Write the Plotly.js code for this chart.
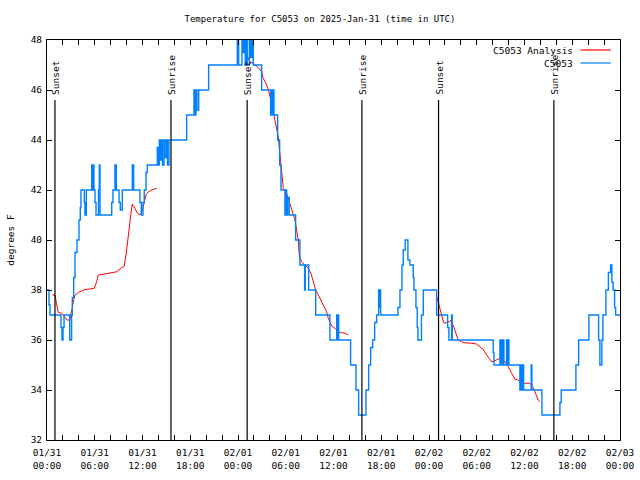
<!DOCTYPE html>
<html>
<head>
<meta charset="utf-8">
<script src="https://cdn.plot.ly/plotly-3.0.1.min.js"></script>
<style>html,body{margin:0;padding:0;background:#fff;}#chart{width:640px;height:480px;}</style>
</head>
<body>
<div id="chart"></div>
<script>
// Hours since 2025-01-31 00:00 UTC, observed temperature (deg F) for station C5053
const blueHours = [0,0.25,0.38,1.76,1.88,2.01,2.14,2.85,3.09,3.18,3.35,3.52,3.77,4.02,4.18,4.27,4.69,4.77,4.94,5.62,5.69,5.78,5.90,6.03,6.16,6.47,6.57,6.66,8.13,8.29,8.54,8.71,9.05,9.21,9.46,10.72,10.89,11.68,11.85,12.06,12.22,12.44,12.60,13.86,13.98,14.11,14.23,14.38,14.51,14.70,14.82,15.01,15.14,15.33,17.55,18.47,18.59,18.72,18.84,19.06,20.31,23.91,24.08,24.50,24.62,24.75,24.91,25.00,25.16,25.42,25.59,25.75,25.92,26.97,28.10,28.18,28.30,28.39,28.52,28.98,29.23,29.40,29.90,29.99,30.11,30.24,30.44,31.24,31.78,32.37,32.45,32.88,33.76,35.55,36.40,36.47,36.56,36.65,38.15,38.82,39.16,40.08,40.42,40.67,40.92,41.17,41.42,41.67,41.75,41.83,41.92,44.10,44.35,44.60,44.76,45.01,45.35,45.60,46.02,46.11,46.36,46.52,46.61,47.05,47.28,48.96,50.34,50.50,50.84,50.92,56.07,56.16,56.91,57.00,57.12,57.20,57.33,57.41,57.75,57.83,57.95,58.04,59.42,59.55,59.64,59.80,59.89,60.84,60.93,62.19,64.45,64.61,66.46,66.80,68.09,69.31,69.47,69.72,69.85,70.23,70.54,70.82,70.98,71.14,71.32,71.45,72.0];
const blueTemps = [38,37.4,37,36.5,36,36.5,37,36,37,37.7,38.5,39.5,40,40.8,41.3,42,41.5,41,42,43,42,43,42,41.5,41,42,43,41,41.5,42,43,42,41.5,41.2,42,43,42,41.5,41,41.5,42,42.7,43,43.7,43,44,43.2,44,43,44,43.3,44,43,44,45,46,45,46,45.2,46,47,48.3,47,48.3,47.5,48.3,47,48.3,47,48.3,47.3,48.3,47,46,45,46,45,46,45,44,43,42,41,42,41,41.7,41,40,39,38,39,38,37,36,37,36,37,36,35,34,33,34,35,35.7,36,36.7,37,38,37.3,38,37,37.3,38,39,39.6,40,39.2,39,38.5,38,37.3,36.5,36,37,38,37,36.5,36,37,36,35.5,35,36,35,36,35,36,35,36,35,36,35,34,35,34,35,34,35,34,33,33.5,34,35,36,37,36,35,36,37,38,38.7,39,38.3,38,37.3,37,37];

// Analysis series (null = gap between analysis periods)
const redHours = [0.67,1.01,1.17,1.42,1.85,2.26,2.51,2.85,3.02,3.18,3.35,3.52,3.93,4.56,5.19,5.94,6.24,6.44,7.07,7.91,8.76,9.30,9.71,10.01,10.30,10.55,10.72,11.06,11.39,11.68,11.90,12.10,12.19,12.44,12.73,13.15,13.78,
  null,
  25.16,25.50,25.92,26.55,26.97,27.17,27.51,27.80,28.02,28.23,28.43,28.64,28.86,29.06,29.18,29.36,29.49,29.69,30.11,30.53,30.87,31.16,31.37,31.57,31.70,32.00,32.41,32.83,33.17,33.46,33.76,34.08,34.51,34.84,35.14,35.34,35.55,35.77,36.18,36.60,37.02,37.44,37.85,
  null,
  48.99,49.16,49.34,49.50,49.66,49.84,50.00,50.16,50.34,50.63,50.75,50.92,51.09,51.35,51.51,51.67,52.10,52.51,53.36,53.98,54.40,54.81,55.24,55.53,55.87,56.28,56.62,56.91,57.20,57.54,57.95,58.29,58.58,58.80,59.21,59.64,60.05,60.68,61.09,61.31,61.52,61.72,61.93];
const redTemps = [37.8,37.8,37.5,37.1,37.07,36.87,36.8,36.8,37.0,37.3,37.6,37.8,37.9,38.0,38.03,38.07,38.33,38.6,38.63,38.67,38.73,38.87,38.96,39.6,40.5,41.07,41.44,41.27,41.07,41.0,41.1,41.35,41.5,41.8,41.93,42.0,42.07,
  null,
  47.36,47.13,47.07,46.9,46.73,46.47,46.27,46.03,45.73,45.5,45.13,44.8,44.53,44.13,43.73,43.07,42.6,42.07,41.87,41.47,41.13,40.8,40.4,40.0,39.4,39.13,39.0,38.87,38.67,38.33,38.0,37.8,37.53,37.33,37.13,36.87,36.73,36.56,36.47,36.33,36.29,36.27,36.2,
  null,
  37.73,37.53,37.27,37.07,36.87,36.69,36.67,36.69,36.73,36.73,36.8,36.69,36.53,36.33,36.13,36.0,35.93,35.89,35.87,35.84,35.73,35.63,35.4,35.27,35.13,35.17,35.23,35.27,35.2,35.13,34.93,34.73,34.53,34.43,34.4,34.27,34.27,34.27,34.1,33.93,33.73,33.6,33.53];

// Sun events (hours since start) and labels
const sunHours = [1.0, 15.58, 25.15, 39.57, 49.2, 63.69];
const sunLabels = ["Sunset", "Sunrise", "Sunset", "Sunrise", "Sunset", "Sunrise"];

const seriesNames = ["C5053 Analysis", "C5053"];
const seriesColors = ["#ff0000", "#0080ff"];

const T0 = Date.UTC(2025, 0, 31, 0, 0, 0);
function toDate(h) {
  if (h === null) return null;
  return new Date(T0 + h * 3600000).toISOString().slice(0, 19).replace('T', ' ');
}

const FONT = "DejaVu Sans Mono, Liberation Mono, monospace";
const FS = 9.5;

const traces = [
  {
    x: redHours.map(toDate), y: redTemps, type: 'scatter', mode: 'lines',
    name: seriesNames[0], line: {color: seriesColors[0], width: 1}, connectgaps: false, showlegend: false
  },
  {
    x: blueHours.map(toDate), y: blueTemps, type: 'scatter', mode: 'lines',
    name: seriesNames[1], line: {color: seriesColors[1], width: 1.4, shape: 'hv'}, showlegend: false
  }
];

const shapes = sunHours.map(h => ({
  type: 'line', xref: 'x', yref: 'y', x0: toDate(h), x1: toDate(h), y0: 32, y1: 45.6,
  line: {color: '#000', width: 1.2}, layer: 'above'
}));
const annotations = sunHours.map((h, i) => ({
  xref: 'x', yref: 'y', x: toDate(h), y: 45.6, text: sunLabels[i], textangle: -90,
  showarrow: false, xanchor: 'center', yanchor: 'bottom', yshift: 3,
  font: {family: FONT, size: FS, color: '#000'}
}));

// Legend drawn gnuplot-style (text right, sample line after)
const legRowsY = [0.975, 0.9425];
seriesNames.forEach((n, i) => {
  annotations.push({xref: 'paper', yref: 'paper', x: 0.9215, y: legRowsY[i], text: n, showarrow: false,
    xanchor: 'right', yanchor: 'middle', font: {family: FONT, size: FS, color: '#000'}});
  shapes.push({type: 'line', xref: 'paper', yref: 'paper', x0: 0.931, x1: 0.984, y0: legRowsY[i], y1: legRowsY[i],
    line: {color: seriesColors[i], width: 1.2}});
});

const layout = {
  width: 640, height: 480,
  margin: {l: 47, r: 20, t: 40, b: 40, pad: 0},
  paper_bgcolor: '#fff', plot_bgcolor: '#fff',
  font: {family: FONT, size: FS, color: '#000'},
  title: {text: 'Temperature for C5053 on 2025-Jan-31 (time in UTC)', x: 0.5, xref: 'container',
    y: 1 - 19/480, yref: 'container', yanchor: 'middle', font: {family: FONT, size: 9, color: '#000'}},
  xaxis: {
    type: 'date', range: ['2025-01-31 00:00', '2025-02-03 00:00'],
    dtick: 6 * 3600000, tick0: '2025-01-31 00:00', tickformat: '%m/%d<br>%H:%M',
    ticks: 'inside', ticklen: 5, tickcolor: '#000', mirror: 'ticks', ticklabelstandoff: 4,
    showline: true, linecolor: '#000', linewidth: 1, showgrid: false, zeroline: false,
    minor: {dtick: 2 * 3600000, ticks: 'inside', ticklen: 5, tickcolor: '#000', showgrid: false},
    tickfont: {family: FONT, size: FS, color: '#000'}, automargin: false
  },
  yaxis: {
    range: [32, 48], dtick: 2, tick0: 32,
    ticks: 'inside', ticklen: 5, tickcolor: '#000', mirror: 'ticks', ticklabelstandoff: 2,
    showline: true, linecolor: '#000', linewidth: 1, showgrid: false, zeroline: false,
    tickfont: {family: FONT, size: FS, color: '#000'}, automargin: false,
    title: {text: 'degrees F', standoff: 14, font: {family: FONT, size: FS, color: '#000'}}
  },
  shapes: shapes,
  annotations: annotations,
  showlegend: false
};

Plotly.newPlot('chart', traces, layout, {staticPlot: true, displayModeBar: false});
</script>
</body>
</html>
